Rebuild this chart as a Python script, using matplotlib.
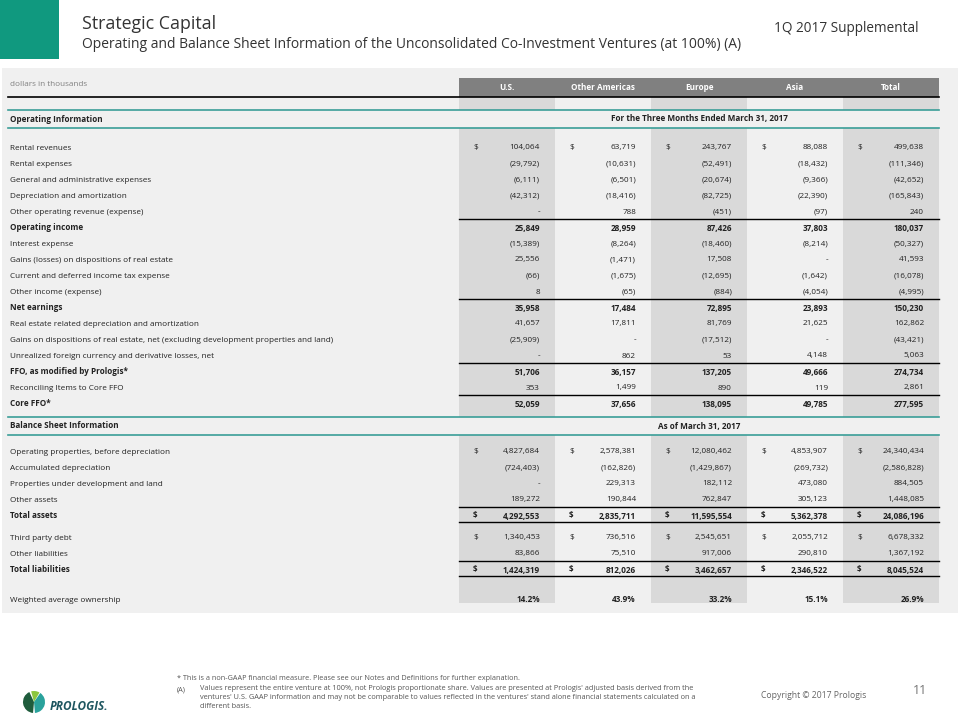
import matplotlib
matplotlib.use("Agg")
import matplotlib.pyplot as plt
from matplotlib.patches import Rectangle, Wedge

plt.rcParams['font.family'] = ['Open Sans', 'DejaVu Sans']

# ---- data (dollars in thousands) ----
columns = ["U.S.", "Other Americas", "Europe", "Asia", "Total"]

op_labels = [
    "Rental revenues",
    "Rental expenses",
    "General and administrative expenses",
    "Depreciation and amortization",
    "Other operating revenue (expense)",
    "Operating income",
    "Interest expense",
    "Gains (losses) on dispositions of real estate",
    "Current and deferred income tax expense",
    "Other income (expense)",
    "Net earnings",
    "Real estate related depreciation and amortization",
    "Gains on dispositions of real estate, net (excluding development properties and land)",
    "Unrealized foreign currency and derivative losses, net",
    "FFO, as modified by Prologis*",
    "Reconciling Items to Core FFO",
    "Core FFO*",
]
op_us = [104064, -29792, -6111, -42312, 0, 25849, -15389, 25556, -66, 8,
         35958, 41657, -25909, 0, 51706, 353, 52059]
op_other_americas = [63719, -10631, -6501, -18416, 788, 28959, -8264, -1471, -1675, -65,
                     17484, 17811, 0, 862, 36157, 1499, 37656]
op_europe = [243767, -52491, -20674, -82725, -451, 87426, -18460, 17508, -12695, -884,
             72895, 81769, -17512, 53, 137205, 890, 138095]
op_asia = [88088, -18432, -9366, -22390, -97, 37803, -8214, 0, -1642, -4054,
           23893, 21625, 0, 4148, 49666, 119, 49785]
op_total = [499638, -111346, -42652, -165843, 240, 180037, -50327, 41593, -16078, -4995,
            150230, 162862, -43421, 5063, 274734, 2861, 277595]

bs_labels = [
    "Operating properties, before depreciation",
    "Accumulated depreciation",
    "Properties under development and land",
    "Other assets",
    "Total assets",
    "Third party debt",
    "Other liabilities",
    "Total liabilities",
]
bs_us = [4827684, -724403, 0, 189272, 4292553, 1340453, 83866, 1424319]
bs_other_americas = [2578381, -162826, 229313, 190844, 2835711, 736516, 75510, 812026]
bs_europe = [12080462, -1429867, 182112, 762847, 11595554, 2545651, 917006, 3462657]
bs_asia = [4853907, -269732, 473080, 305123, 5362378, 2055712, 290810, 2346522]
bs_total = [24340434, -2586828, 884505, 1448085, 24086196, 6678332, 1367192, 8045524]

ownership_label = "Weighted average ownership"
ownership_pct = [14.2, 43.9, 33.2, 15.1, 26.9]

op_bold = {"Operating income", "Net earnings", "FFO, as modified by Prologis*", "Core FFO*"}
op_line_above = op_bold
op_dollar = {"Rental revenues"}
bs_bold = {"Total assets", "Total liabilities"}
bs_dollar = {"Operating properties, before depreciation", "Total assets",
             "Third party debt", "Total liabilities"}

# ---- styling ----
TEAL = "#3a9e98"
GREEN = "#10997f"
PANEL = "#f0f0f0"
SHADE = "#d9d9d9"
HEADER = "#808080"
TXT = "#222222"
FS = 5.9

col_left = 459
col_w = 96
tab_left = 8
tab_right = col_left + col_w * len(columns)


def fmt(v):
    if v == 0:
        return "-"
    if v < 0:
        return "({:,})".format(-v)
    return "{:,}".format(v)


fig = plt.figure(figsize=(9.6, 7.2), dpi=100)
ax = fig.add_axes([0, 0, 1, 1])
ax.set_xlim(0, 960)
ax.set_ylim(720, 0)
ax.axis("off")

# header block
ax.add_patch(Rectangle((0, 0), 59, 59, color=GREEN, lw=0))
ax.text(82, 24, "Strategic Capital", fontsize=12.8, color="#333333", va="center")
ax.text(82, 44, "Operating and Balance Sheet Information of the Unconsolidated Co-Investment Ventures (at 100%) (A)",
        fontsize=10.0, color="#333333", va="center")
ax.text(918, 28, "1Q 2017 Supplemental", fontsize=9.8, color="#333333", va="center", ha="right")

# panel
ax.add_patch(Rectangle((2, 68), 956, 545, color=PANEL, lw=0))

# shaded columns (U.S., Europe, Total)
shade_spans = [(97, 110), (128, 417), (435, 603)]
for i in range(0, len(columns), 2):
    for y0, y1 in shade_spans:
        ax.add_patch(Rectangle((col_left + i * col_w, y0), col_w, y1 - y0, color=SHADE, lw=0))

# column header
ax.add_patch(Rectangle((col_left, 78), tab_right - col_left, 19, color=HEADER, lw=0))
for i, c in enumerate(columns):
    ax.text(col_left + (i + 0.5) * col_w, 87.5, c, fontsize=FS, color="white",
            fontweight="bold", ha="center", va="center")
ax.text(10, 85, "dollars in thousands", fontsize=FS, color="#808080", va="center")
ax.plot([tab_left, tab_right], [97, 97], color="black", lw=1.2)

# section header rows
for y_top, y_bot, left, mid in [(110, 128, "Operating Information", "For the Three Months Ended March 31, 2017"),
                                (417, 435, "Balance Sheet Information", "As of March 31, 2017")]:
    ax.plot([tab_left, tab_right], [y_top, y_top], color=TEAL, lw=1.2)
    ax.plot([tab_left, tab_right], [y_bot, y_bot], color=TEAL, lw=1.2)
    yc = (y_top + y_bot) / 2
    ax.text(10, yc, left, fontsize=FS, fontweight="bold", color=TXT, va="center")
    ax.text((col_left + tab_right) / 2, yc, mid, fontsize=FS, fontweight="bold", color=TXT,
            ha="center", va="center")


def draw_row(y, label, values, bold, dollar, line_above=False, line_below=False, num_bold=None):
    w = "bold" if bold else "normal"
    nw = w if num_bold is None else ("bold" if num_bold else "normal")
    ax.text(10, y, label, fontsize=FS, color=TXT, va="center", fontweight=w)
    for i, v in enumerate(values):
        x0 = col_left + i * col_w
        if dollar:
            ax.text(x0 + 14, y, "$", fontsize=FS, color=TXT, va="center", fontweight=nw)
        ax.text(x0 + col_w - 15, y, v, fontsize=FS, color=TXT, va="center", ha="right", fontweight=nw)
    if line_above:
        ax.plot([col_left, tab_right], [y - 9, y - 9], color="black", lw=1.0)
    if line_below:
        ax.plot([col_left, tab_right], [y + 6, y + 6], color="black", lw=1.0)


op_cols = [op_us, op_other_americas, op_europe, op_asia, op_total]
y = 148
for k, lab in enumerate(op_labels):
    vals = [fmt(c[k]) for c in op_cols]
    draw_row(y, lab, vals, lab in op_bold, lab in op_dollar, line_above=lab in op_line_above)
    y += 16

bs_cols = [bs_us, bs_other_americas, bs_europe, bs_asia, bs_total]
y = 452
for k, lab in enumerate(bs_labels):
    if lab == "Third party debt":
        y += 6
    vals = [fmt(c[k]) for c in bs_cols]
    draw_row(y, lab, vals, lab in bs_bold, lab in bs_dollar,
             line_above=lab in bs_bold, line_below=lab in bs_bold)
    y += 16

y += 14
draw_row(y, ownership_label, ["{:.1f}%".format(p) for p in ownership_pct], False, False, num_bold=True)

# footer
ax.text(177, 679, "* This is a non-GAAP financial measure. Please see our Notes and Definitions for further explanation.",
        fontsize=5.2, color="#555555", va="center")
ax.text(177, 690, "(A)", fontsize=5.3, color="#555555", va="center")
ax.text(200, 684.5,
        "Values represent the entire venture at 100%, not Prologis proportionate share. Values are presented at Prologis' adjusted basis derived from the\n"
        "ventures' U.S. GAAP information and may not be comparable to values reflected in the ventures' stand alone financial statements calculated on a\n"
        "different basis.",
        fontsize=5.3, color="#555555", va="top", linespacing=1.45)
ax.text(761, 695, "Copyright \u00a9 2017 Prologis", fontsize=6.2, color="#666666", va="center")
ax.text(920, 691, "11", fontsize=9, color="#777777", va="center", ha="center")

# logo
ax.add_patch(Wedge((34, 702), 11, 95, 245, color="#1f5c3c", lw=0))
ax.add_patch(Wedge((34, 702), 11, 255, 300, color="#8cc63e", lw=0))
ax.add_patch(Wedge((34, 702), 11, 305, 85, color="#2aa29c", lw=0))
ax.text(50, 707, "PROLOGIS.", fontsize=8.5, color="#1e5660", fontweight="bold", fontstyle="italic", va="center")

fig.savefig("out.png", dpi=100)
